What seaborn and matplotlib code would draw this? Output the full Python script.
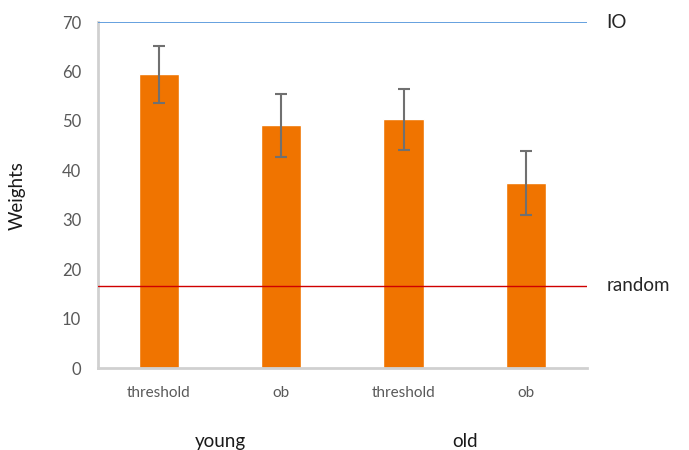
import pandas as pd
import seaborn as sns
import matplotlib.pyplot as plt

# values
conditions = ["threshold", "ob", "threshold", "ob"]
groups = ["young", "young", "old", "old"]
weights = [59.4, 49.1, 50.3, 37.4]
errors = [5.85, 6.3, 6.25, 6.45]
io_level = 70
random_level = 16.7

df = pd.DataFrame({
    "slot": [f"{g}_{c}" for g, c in zip(groups, conditions)],
    "condition": conditions,
    "group": groups,
    "weight": weights,
})

sns.set_theme(style="white")
plt.rcParams["font.family"] = ["Lato", "DejaVu Sans"]

fig = plt.figure(figsize=(6.89, 4.5), dpi=100)
ax = fig.add_axes([0.142, 0.182, 0.71, 0.769])

sns.barplot(data=df, x="slot", y="weight", color="#f07400", width=0.33,
            errorbar=None, saturation=1, ax=ax)
ax.errorbar(range(len(weights)), weights, yerr=errors, fmt="none",
            ecolor="#707070", elinewidth=1.5, capsize=4, capthick=1.5)

ax.axhline(io_level, color="#4a90d9", lw=1.2, zorder=3)
ax.axhline(random_level, color="#d00000", lw=1.0, zorder=3)
ax.text(1.04, io_level, "IO", transform=ax.get_yaxis_transform(),
        va="center", ha="left", fontsize=13.5, color="#262626")
ax.text(1.04, random_level, "random", transform=ax.get_yaxis_transform(),
        va="center", ha="left", fontsize=13.5, color="#262626")

ax.set_xlim(-0.5, 3.5)
ax.set_ylim(0, 70)
ax.set_yticks(range(0, 71, 10))
ax.set_xticks(range(len(conditions)))
ax.set_xticklabels(conditions)
ax.tick_params(axis="x", colors="#595959", labelsize=11, length=0, pad=13)
ax.tick_params(axis="y", colors="#595959", labelsize=12, length=0, pad=12)
ax.set_xlabel("")
ax.set_ylabel("Weights", fontsize=13.5, color="#1a1a1a", labelpad=26)

# group labels under the category ticks
for name in ["young", "old"]:
    idx = [i for i, g in enumerate(groups) if g == name]
    ax.text(sum(idx) / len(idx), -14.8, name, ha="center", va="center",
            fontsize=13.5, color="#1a1a1a")

for side in ["top", "right"]:
    ax.spines[side].set_visible(False)
for side in ["left", "bottom"]:
    ax.spines[side].set_color("#d0d0d0")
    ax.spines[side].set_linewidth(2)

plt.savefig("out.png", dpi=100)
plt.close()
